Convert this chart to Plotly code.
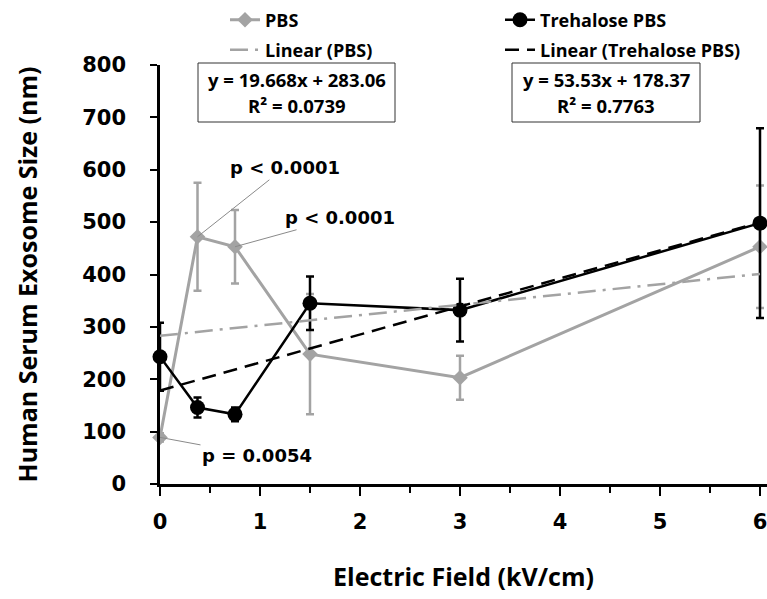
import plotly.graph_objects as go

# ---------------- data ----------------
field = [0, 0.375, 0.75, 1.5, 3, 6]                 # Electric Field (kV/cm)
pbs_size = [89, 472, 453, 248, 203, 453]            # PBS, nm
pbs_err = [8, 103, 70, 115, 42, 117]
tre_size = [243, 146, 133, 345, 332, 498]           # Trehalose PBS, nm
tre_err = [65, 19, 13, 51, 60, 181]

pbs_fit = [19.668, 283.06]      # slope, intercept
pbs_r2 = 0.0739
tre_fit = [53.53, 178.37]
tre_r2 = 0.7763

p_labels = ["p = 0.0054", "p < 0.0001", "p < 0.0001"]   # PBS points 0,1,2
x_ticks = [0, 1, 2, 3, 4, 5, 6]
y_ticks = [0, 100, 200, 300, 400, 500, 600, 700, 800]

# ---------------- style ----------------
W, H = 767, 599
L, R, T, B = 160, 0, 65, 115
PW, PH = W - L - R, H - T - B
GRAY = "#a3a3a3"
TFONT = "Open Sans"
NFONT = "DejaVu Sans"


def px(x):
    return (x - L) / PW


def py(y):
    return (H - B - y) / PH


fig = go.Figure()

x_fit = [min(field), max(field)]

fig.add_trace(go.Scatter(
    x=field, y=pbs_size, name="PBS", mode="lines+markers",
    line=dict(color=GRAY, width=3),
    marker=dict(symbol="diamond", size=12, color=GRAY),
    error_y=dict(type="data", array=pbs_err, color=GRAY, thickness=2.5, width=4),
    cliponaxis=False, legend="legend"))

fig.add_trace(go.Scatter(
    x=field, y=tre_size, name="Trehalose PBS", mode="lines+markers",
    line=dict(color="black", width=2.5),
    marker=dict(symbol="circle", size=15, color="black"),
    error_y=dict(type="data", array=tre_err, color="black", thickness=2.5, width=4),
    cliponaxis=False, legend="legend2"))

fig.add_trace(go.Scatter(
    x=x_fit, y=[pbs_fit[0] * x + pbs_fit[1] for x in x_fit],
    name="Linear (PBS)", mode="lines",
    line=dict(color=GRAY, width=2.5, dash="18px,7px,3px,7px"),
    legend="legend3"))

fig.add_trace(go.Scatter(
    x=x_fit, y=[tre_fit[0] * x + tre_fit[1] for x in x_fit],
    name="Linear (Trehalose PBS)", mode="lines",
    line=dict(color="black", width=2.5, dash="14px,8px"),
    legend="legend4"))

# p-value annotations
p_offsets = [(97, 18), (87, -69), (105, -29)]
for i, (lab, (ax, ay)) in enumerate(zip(p_labels, p_offsets)):
    fig.add_annotation(
        x=field[i], y=pbs_size[i], text=lab, showarrow=True,
        ax=ax, ay=ay, arrowhead=0, arrowwidth=1, arrowcolor="#8a8a8a",
        standoff=0, startstandoff=0,
        font=dict(family=NFONT, size=18, color="black", weight="bold"))

# equation boxes
boxes = [
    (pbs_fit, pbs_r2, 198, 395),
    (tre_fit, tre_r2, 512, 700),
]
for fit, r2, x0, x1 in boxes:
    xc = (x0 + x1) / 2
    fig.add_shape(type="rect", xref="paper", yref="paper",
                  x0=px(x0), x1=px(x1), y0=py(122), y1=py(63),
                  line=dict(color="#333333", width=1), fillcolor="white", layer="above")
    fig.add_annotation(xref="paper", yref="paper", x=px(xc), y=py(80),
                       text=f"y = {fit[0]:g}x + {fit[1]:.2f}", showarrow=False,
                       xanchor="center", yanchor="middle",
                       font=dict(family=TFONT, size=18.5, color="black", weight="bold"))
    fig.add_annotation(xref="paper", yref="paper", x=px(xc), y=py(105),
                       text=f"R² = {r2:.4f}", showarrow=False,
                       xanchor="center", yanchor="middle",
                       font=dict(family=TFONT, size=18.5, color="black", weight="bold"))

legend_common = dict(orientation="v", xanchor="left", yanchor="middle",
                     bgcolor="rgba(0,0,0,0)", borderwidth=0, itemwidth=30,
                     font=dict(family=TFONT, size=18, color="black", weight="bold"))
col1, col2 = 225, 500
row1, row2 = 20, 50

fig.update_layout(
    width=W, height=H, autosize=False,
    margin=dict(l=L, r=R, t=T, b=B, pad=0),
    paper_bgcolor="white", plot_bgcolor="white",
    font=dict(family=TFONT, color="black"),
    showlegend=True,
    legend=dict(x=px(col1), y=py(row1), **legend_common),
    legend2=dict(x=px(col2), y=py(row1), **legend_common),
    legend3=dict(x=px(col1), y=py(row2), **legend_common),
    legend4=dict(x=px(col2), y=py(row2), **legend_common),
    xaxis=dict(
        range=[0, 6.07], tickvals=x_ticks, ticks="outside", ticklen=9, tickwidth=2,
        tickcolor="black", showline=True, linecolor="black", linewidth=2.5,
        showgrid=False, zeroline=False, ticklabelstandoff=8, ticklabeloverflow="allow",
        minor=dict(ticks="outside", ticklen=6, tickwidth=2, tickcolor="black", dtick=0.5,
                   showgrid=False),
        tickfont=dict(family=NFONT, size=21, color="black", weight="bold"),
        title=dict(text="Electric Field (kV/cm)", standoff=36,
                   font=dict(family=TFONT, size=25, color="black", weight="bold"))),
    yaxis=dict(
        range=[0, 800], tickvals=y_ticks, ticks="outside", ticklen=7, tickwidth=2,
        tickcolor="black", showline=True, linecolor="black", linewidth=2.5,
        showgrid=False, zeroline=False, ticklabelstandoff=20,
        tickfont=dict(family=NFONT, size=21, color="black", weight="bold"),
        title=dict(text="Human Serum Exosome Size (nm)", standoff=38,
                   font=dict(family=TFONT, size=25, color="black", weight="bold"))),
)

fig.write_html("out.html")
